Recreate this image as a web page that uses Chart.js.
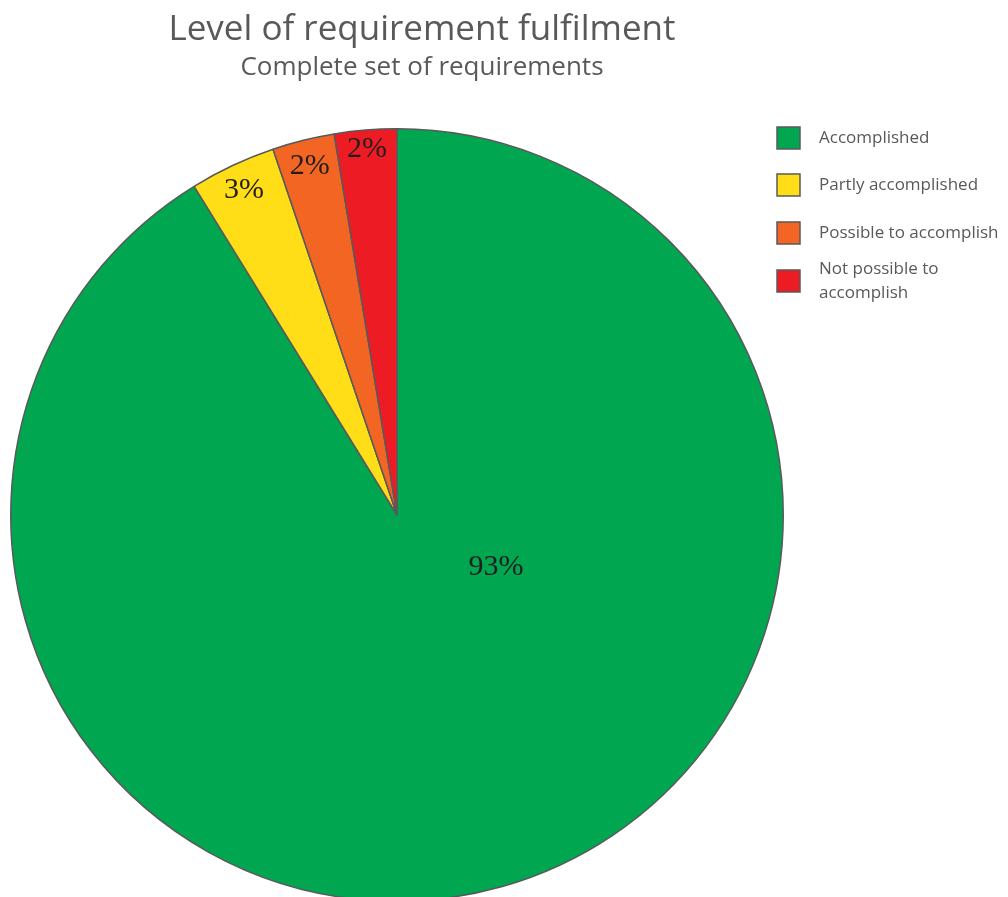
<!DOCTYPE html>
<html>
<head>
<meta charset="utf-8">
<script src="https://cdn.jsdelivr.net/npm/chart.js@4"></script>
<style>
  html, body { margin: 0; padding: 0; background: #fff; overflow: hidden; }
  #wrap { position: relative; width: 1008px; height: 897px; }
  #title { position: absolute; left: 0; width: 844px; top: 5px; text-align: center;
           font-family: "Open Sans", sans-serif; color: #58595b; font-size: 35px; line-height: 44px; }
  #subtitle { position: absolute; left: 0; width: 844px; top: 49px; text-align: center;
           font-family: "Open Sans", sans-serif; color: #58595b; font-size: 26px; line-height: 32px; }
  canvas { position: absolute; left: 0; top: 0; }
</style>
</head>
<body>
<div id="wrap">
  <canvas id="pie" width="1008" height="910"></canvas>
  <div id="title">Level of requirement fulfilment</div>
  <div id="subtitle">Complete set of requirements</div>
</div>
<script>
// Categories and values
const categories = ['Accomplished', 'Partly accomplished', 'Possible to accomplish', 'Not possible to accomplish'];
const legendLines = [['Accomplished'], ['Partly accomplished'], ['Possible to accomplish'], ['Not possible to', 'accomplish']];
const values = [91.2, 3.6, 2.6, 2.6];
const valueLabels = ['93%', '3%', '2%', '2%'];
const colors = ['#00a650', '#ffdd17', '#f26522', '#ed1c24'];

// label placement: fraction of radius, optional fixed angle (deg clockwise from top)
const labelRadius = [0.29, 0.93, 0.93, 0.95];
const labelAngle = [118, null, null, null];

const sliceLabels = {
    id: 'sliceLabels',
    afterDatasetsDraw(chart) {
        const c = chart.ctx;
        const meta = chart.getDatasetMeta(0);
        c.save();
        c.font = '30px "Liberation Serif", serif';
        c.fillStyle = '#231f20';
        c.textAlign = 'center';
        c.textBaseline = 'middle';
        meta.data.forEach((arc, i) => {
            const p = arc.getProps(['x', 'y', 'startAngle', 'endAngle', 'outerRadius'], true);
            let a = (p.startAngle + p.endAngle) / 2;
            if (labelAngle[i] !== null) a = (labelAngle[i] - 90) * Math.PI / 180;
            const r = p.outerRadius * labelRadius[i];
            c.fillText(valueLabels[i], p.x + Math.cos(a) * r, p.y + Math.sin(a) * r);
        });
        c.restore();
    }
};

const sideLegend = {
    id: 'sideLegend',
    afterDraw(chart) {
        const c = chart.ctx;
        const x = 777, boxW = 23, boxH = 22;
        const tops = [127, 174, 222, 270];
        c.save();
        c.font = '17px "Open Sans", sans-serif';
        c.textBaseline = 'middle';
        legendLines.forEach((lines, i) => {
            c.fillStyle = colors[i];
            c.fillRect(x, tops[i], boxW, boxH);
            c.strokeStyle = '#58595b';
            c.lineWidth = 1.5;
            c.strokeRect(x, tops[i], boxW, boxH);
            c.fillStyle = '#58595b';
            if (lines.length === 1) {
                c.fillText(lines[0], 819, tops[i] + boxH / 2);
            } else {
                c.fillText(lines[0], 819, tops[i] - 1);
                c.fillText(lines[1], 819, tops[i] + 23);
            }
        });
        c.restore();
    }
};

new Chart(document.getElementById('pie'), {
    type: 'pie',
    data: {
        labels: categories,
        datasets: [{
            data: values,
            backgroundColor: colors,
            borderColor: '#58595b',
            borderWidth: 1.5,
        }],
    },
    options: {
        responsive: false,
        animation: false,
        layout: { padding: { left: 10, right: 224, top: 128, bottom: 8 } },
        plugins: {
            legend: { display: false },
            tooltip: { enabled: false },
        },
    },
    plugins: [sliceLabels, sideLegend],
});
</script>
</body>
</html>
